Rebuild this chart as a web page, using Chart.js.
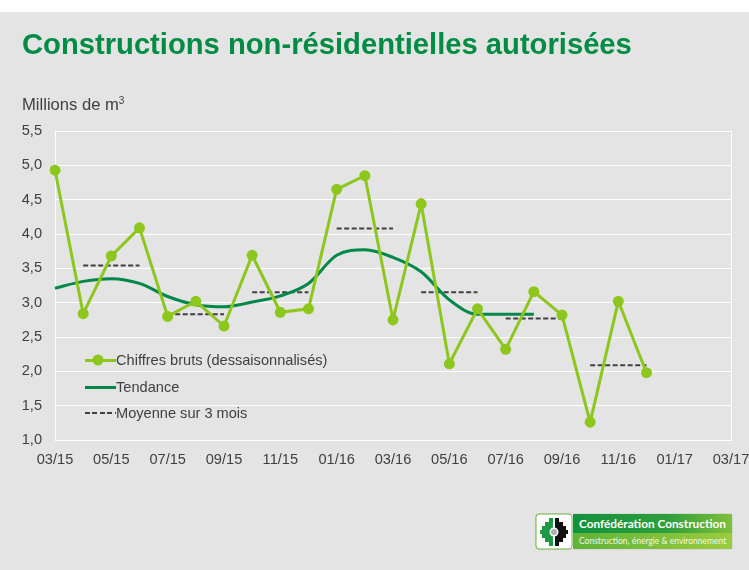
<!DOCTYPE html>
<html>
<head>
<meta charset="utf-8">
<script src="https://cdn.jsdelivr.net/npm/chart.js@4.4.1/dist/chart.umd.min.js"></script>
<style>
  html, body { margin: 0; padding: 0; background: #fff; }
  #page {
    position: relative; width: 749px; height: 570px; overflow: hidden;
    background: #fff; font-family: "Liberation Sans", Arial, sans-serif;
  }
  #bg { position: absolute; left: 0; top: 12px; width: 749px; height: 558px; background: #e4e4e4; }
  #chart { position: absolute; left: 0; top: 0; }
  h1 {
    position: absolute; left: 22px; top: 30px; margin: 0;
    font-size: 29.2px; line-height: 29px; font-weight: bold; color: #008c45;
    white-space: nowrap;
  }
  #unit {
    position: absolute; left: 22px; top: 96.5px; font-size: 16.6px; line-height: 16px; color: #404040;
  }
  #unit sup { font-size: 10px; vertical-align: 6px; line-height: 0; }
  .leg { position: absolute; left: 85px; height: 20px; font-size: 14.6px; line-height: 20px; color: #404040; white-space: nowrap; }
  .leg .sym { position: absolute; left: 0; top: 9px; width: 31px; height: 3px; }
  .leg .txt { position: absolute; left: 31px; top: 0; }
  #logo { position: absolute; left: 535px; top: 513px; width: 198px; height: 37px; }
</style>
</head>
<body>
<div id="page">
  <div id="bg"></div>
  <canvas id="chart" width="790" height="570"></canvas>
  <h1>Constructions non-résidentielles autorisées</h1>
  <div id="unit">Millions de m<sup>3</sup></div>

  <div class="leg" style="top:350px">
    <div class="sym" style="background:#8dc71e"></div>
    <svg style="position:absolute;left:7px;top:4px" width="12" height="12"><circle cx="6" cy="6" r="5.5" fill="#8dc71e"/></svg>
    <span class="txt">Chiffres bruts (dessaisonnalisés)</span>
  </div>
  <div class="leg" style="top:376.5px">
    <div class="sym" style="background:#00884a"></div>
    <span class="txt">Tendance</span>
  </div>
  <div class="leg" style="top:403px">
    <div class="sym" style="height:2px;background:repeating-linear-gradient(to right,#404040 0 5px,transparent 5px 7.5px)"></div>
    <span class="txt">Moyenne sur 3 mois</span>
  </div>

  <svg id="logo" viewBox="0 0 198 37">
    <defs>
      <linearGradient id="gTop" x1="0" x2="1" y1="0" y2="0">
        <stop offset="0" stop-color="#12913f"/>
        <stop offset="0.6" stop-color="#2f9f3b"/>
        <stop offset="1" stop-color="#7fbf3c"/>
      </linearGradient>
      <linearGradient id="gBot" x1="0" x2="1" y1="0" y2="0">
        <stop offset="0" stop-color="#5fb33a"/>
        <stop offset="1" stop-color="#9ccb3e"/>
      </linearGradient>
    </defs>
    <rect x="0.5" y="0.5" width="197" height="36" rx="2" fill="#f4f4f4" stroke="#d8d8d8"/>
    <rect x="38" y="1" width="159" height="19" fill="url(#gTop)"/>
    <rect x="38" y="20" width="159" height="16" fill="url(#gBot)"/>
    <rect x="1" y="1" width="36" height="35" rx="3" fill="#fff" stroke="#6ab83c"/>
    <g fill="#111">
      <rect x="20" y="5" width="4" height="4"/>
      <rect x="20" y="9" width="8" height="4"/>
      <rect x="20" y="13" width="11" height="4"/>
      <rect x="20" y="17" width="13" height="4"/>
      <rect x="20" y="21" width="11" height="4"/>
      <rect x="20" y="25" width="8" height="4"/>
      <rect x="20" y="29" width="4" height="4"/>
    </g>
    <g fill="#1a9a45">
      <rect x="14" y="5" width="4" height="4"/>
      <rect x="10" y="9" width="8" height="4"/>
      <rect x="7" y="13" width="11" height="4"/>
      <rect x="5" y="17" width="13" height="4"/>
      <rect x="7" y="21" width="11" height="4"/>
      <rect x="10" y="25" width="8" height="4"/>
      <rect x="14" y="29" width="4" height="4"/>
    </g>
    <rect x="18" y="5" width="2" height="28" fill="#fff"/>
    <circle cx="19" cy="19" r="4.5" fill="#fff"/>
    <circle cx="19" cy="19" r="3" fill="#b0b0b0"/>
    <text x="44" y="15" font-family="Lato, 'Open Sans', sans-serif" font-weight="bold" font-size="11.8" fill="#fff">Confédération Construction</text>
    <text x="44" y="31" font-family="Lato, 'Open Sans', sans-serif" font-size="8.5" fill="#f2f8e8">Construction, énergie &amp; environnement</text>
  </svg>
</div>

<script>
// mois de l'axe horizontal
const months = [
  "03/15","04/15","05/15","06/15","07/15","08/15","09/15","10/15","11/15","12/15",
  "01/16","02/16","03/16","04/16","05/16","06/16","07/16","08/16","09/16","10/16",
  "11/16","12/16","01/17","02/17","03/17"
];

// chiffres bruts (dessaisonnalisés), millions de m3
const brut = [
  4.93, 2.84, 3.68, 4.09, 2.80, 3.02, 2.66, 3.69, 2.86, 2.91,
  4.65, 4.85, 2.75, 4.44, 2.11, 2.91, 2.32, 3.16, 2.82, 1.26,
  3.02, 1.98
];

// tendance
const tendance = [
  3.21, 3.31, 3.35, 3.28, 3.09, 2.97, 2.94, 3.01, 3.10, 3.28,
  3.69, 3.77, 3.66, 3.45, 3.04, 2.83, 2.83, 2.83
];

// moyenne sur 3 mois (trimestres)
const moyenne3 = [
  null, 3.54, 3.54, 3.54, 2.83, 2.83, 2.83, 3.15, 3.15, 3.15,
  4.08, 4.08, 4.08, 3.15, 3.15, 3.15, 2.77, 2.77, 2.77, 2.09,
  2.09, 2.09
];

const vert = "#8dc71e";
const vertFonce = "#00884a";
const gris = "#404040";
const police = "'Liberation Sans', Arial, sans-serif";

new Chart(document.getElementById("chart"), {
  type: "line",
  data: {
    labels: months,
    datasets: [
      {
        label: "Moyenne sur 3 mois",
        data: moyenne3,
        borderColor: gris,
        borderWidth: 2,
        borderDash: [5, 2.5],
        pointRadius: 0,
        tension: 0,
        segment: {
          borderColor: ctx => ctx.p0.parsed.y !== ctx.p1.parsed.y ? "rgba(0,0,0,0)" : gris
        },
        order: 3
      },
      {
        label: "Tendance",
        data: tendance,
        borderColor: vertFonce,
        borderWidth: 3,
        pointRadius: 0,
        cubicInterpolationMode: "monotone",
        order: 2
      },
      {
        label: "Chiffres bruts (dessaisonnalisés)",
        data: brut,
        borderColor: vert,
        backgroundColor: vert,
        borderWidth: 3,
        pointRadius: 5.5,
        pointBackgroundColor: vert,
        pointBorderWidth: 0,
        tension: 0,
        order: 1
      }
    ]
  },
  options: {
    responsive: false,
    animation: false,
    layout: { padding: { top: 131, left: 0, right: 59, bottom: 90 } },
    plugins: { legend: { display: false }, tooltip: { enabled: false } },
    scales: {
      x: {
        afterFit: s => { s.height = 40; },
        grid: {
          drawTicks: false,
          color: ctx => ctx.index === months.length - 1 ? "#fff" : "rgba(0,0,0,0)",
          lineWidth: 1
        },
        border: { color: "#fff", width: 1 },
        ticks: {
          autoSkip: false,
          maxRotation: 0,
          padding: 11,
          color: gris,
          font: { family: police, size: 14.6 },
          callback: (v, i) => i % 2 === 0 ? months[i] : ""
        }
      },
      y: {
        min: 1,
        max: 5.5,
        afterFit: s => { s.width = 55; },
        grid: { drawTicks: false, color: "#fff", lineWidth: 1 },
        border: { color: "#fff", width: 1 },
        ticks: {
          stepSize: 0.5,
          padding: 13,
          color: gris,
          font: { family: police, size: 14.6 },
          callback: v => v.toFixed(1).replace(".", ",")
        }
      }
    }
  }
});
</script>
</body>
</html>
